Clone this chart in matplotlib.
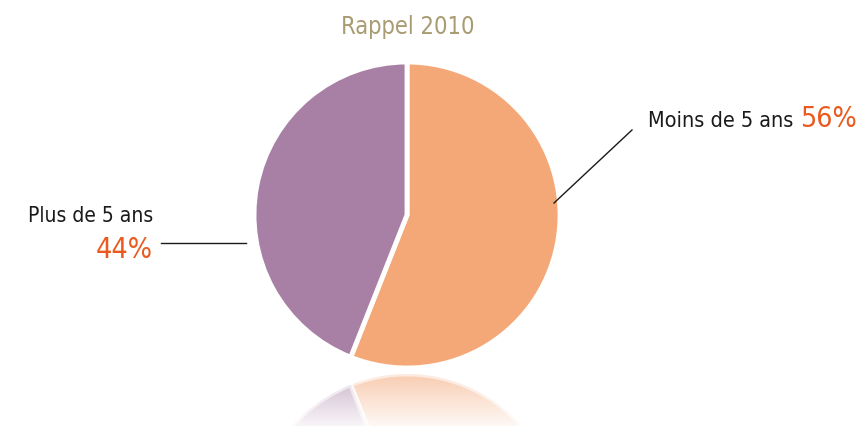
"""
Pie chart "Rappel 2010": share of items under / over 5 years, with a faded reflection.
"""

import matplotlib.pyplot as plt
import numpy as np

# data
categories = ["Moins de 5 ans", "Plus de 5 ans"]
shares = [56, 44]
share_labels = ["56%", "44%"]
title = "Rappel 2010"

colors = ["#F4A878", "#A87FA5"]
accent = "#EA5A1E"
title_color = "#A99B72"

W, H = 859, 426
plt.rcParams["font.family"] = ["DejaVu Sans"]
plt.rcParams["font.stretch"] = "condensed"

fig = plt.figure(figsize=(W / 100, H / 100), dpi=100)
ax = fig.add_axes([0, 0, 1, 1])

# main pie (coordinates are pixels, y measured from the bottom)
cx, cy, r = 407, H - 215, 153
wedge_style = {"edgecolor": "white", "linewidth": 3.5}
ax.pie(
    shares,
    colors=colors,
    startangle=90,
    counterclock=False,
    radius=r,
    center=(cx, cy),
    explode=[0.025, 0],
    wedgeprops=wedge_style,
)

# mirrored pie for the reflection
mirror_y = H - 371
ax.pie(
    shares,
    colors=colors,
    startangle=-90,
    counterclock=True,
    radius=r,
    center=(cx, 2 * mirror_y - cy),
    explode=[0.025, 0],
    wedgeprops=dict(wedge_style, alpha=0.6),
)

# white gradient fading the reflection
grad = np.ones((100, 1, 4))
grad[:, 0, 3] = np.linspace(0.0, 0.88, 100)
ax.imshow(grad, extent=(0, W, 0, mirror_y), aspect="auto", zorder=5, origin="upper")

ax.set_xlim(0, W)
ax.set_ylim(0, H)
ax.axis("off")

ax.text(cx + 1, H - 34, title, ha="center", va="baseline", fontsize=17, color=title_color)

# right label
ax.text(857, H - 127, share_labels[0], ha="right", va="baseline", fontsize=20.5, color=accent)
ax.text(793, H - 127, categories[0], ha="right", va="baseline", fontsize=15.5, color="#1a1a1a")
ax.plot([554, 632], [H - 203, H - 130], color="#1a1a1a", lw=1)

# left label
ax.text(153, H - 222, categories[1], ha="right", va="baseline", fontsize=15, color="#1a1a1a")
ax.text(153, H - 258, share_labels[1], ha="right", va="baseline", fontsize=20.5, color=accent)
ax.plot([161, 246], [H - 243, H - 243], color="#1a1a1a", lw=1)

fig.savefig("out.png", dpi=100, facecolor="white")
